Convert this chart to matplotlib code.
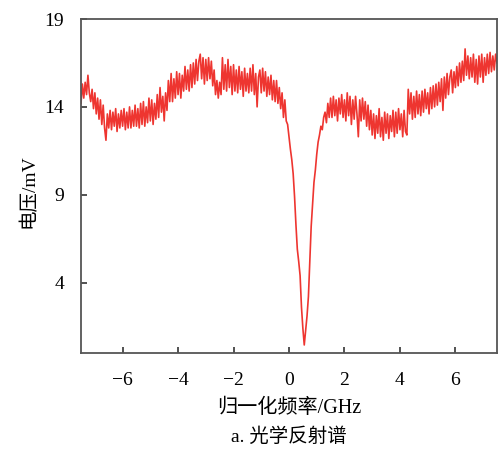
import numpy as np
import matplotlib
matplotlib.use("Agg")
import matplotlib.pyplot as plt

plt.rcParams['font.family'] = ['Liberation Serif', 'Noto Sans CJK SC']
plt.rcParams['axes.unicode_minus'] = True

# Reflected signal (mV), sampled every 0.05 GHz from -7.5 to 7.5 GHz
v_m75 = [14.2, 15.3, 14.5, 15.4, 14.7, 15.8, 14.8, 14.3, 15.0, 13.9]
v_m70 = [14.8, 13.6, 14.5, 13.3, 14.4, 13.0, 14.1, 12.8, 12.1, 13.6]
v_m65 = [12.8, 13.8, 12.7, 13.7, 12.9, 13.9, 12.6, 13.6, 12.8, 13.8]
v_m60 = [12.9, 13.9, 12.7, 13.7, 12.8, 14.0, 12.8, 13.8, 12.9, 14.1]
v_m55 = [12.9, 13.9, 12.8, 14.2, 13.0, 14.3, 12.9, 14.0, 13.1, 14.5]
v_m50 = [13.2, 14.4, 13.0, 14.2, 13.3, 14.7, 13.4, 15.1, 13.7, 14.6]
v_m45 = [13.2, 14.8, 13.8, 15.5, 14.3, 15.9, 14.3, 15.6, 14.5, 16.0]
v_m40 = [14.7, 15.9, 14.5, 15.8, 14.9, 16.3, 15.0, 16.1, 14.9, 16.4]
v_m35 = [15.1, 16.5, 15.3, 16.7, 15.5, 16.6, 17.0, 15.6, 16.8, 15.3]
v_m30 = [16.7, 15.5, 16.8, 15.6, 16.6, 15.2, 16.1, 14.7, 15.5, 14.5]
v_m25 = [15.4, 14.7, 16.8, 15.0, 16.4, 14.9, 16.7, 15.1, 16.3, 14.7]
v_m20 = [16.4, 14.9, 16.1, 14.8, 16.3, 15.0, 16.0, 14.6, 16.2, 14.9]
v_m15 = [15.9, 14.8, 16.2, 14.9, 16.4, 14.7, 15.9, 14.0, 15.7, 16.1]
v_m10 = [14.8, 16.2, 14.9, 16.0, 14.6, 15.7, 14.7, 15.8, 14.4, 15.5]
v_m05 = [14.3, 15.5, 14.2, 15.1, 13.9, 14.8, 13.4, 14.4, 13.2, 13.0]
v_p00 = [12.3, 11.6, 11.0, 10.2, 8.9, 7.3, 5.9, 5.2, 4.4, 2.6]
v_p05 = [1.4, 0.45, 1.3, 2.1, 3.2, 5.2, 7.2, 8.5, 9.7, 10.4]
v_p10 = [11.3, 12.0, 12.4, 12.9, 12.7, 13.4, 13.7, 13.1, 14.2, 13.4]
v_p15 = [14.5, 13.4, 14.6, 13.5, 14.4, 13.2, 14.5, 13.6, 14.7, 13.4]
v_p20 = [14.4, 13.2, 14.8, 13.5, 14.6, 13.0, 14.4, 13.3, 14.6, 13.6]
v_p25 = [12.3, 14.4, 13.2, 14.5, 13.3, 14.3, 12.9, 14.1, 12.7, 13.8]
v_p30 = [12.4, 13.6, 12.2, 13.5, 12.5, 13.9, 12.3, 13.4, 12.1, 13.7]
v_p35 = [12.5, 13.6, 12.2, 13.5, 12.6, 13.8, 12.3, 13.7, 12.5, 13.9]
v_p40 = [12.7, 13.6, 12.3, 13.8, 12.6, 12.4, 15.0, 13.6, 14.8, 13.3]
v_p45 = [14.6, 13.4, 14.9, 13.6, 14.7, 13.5, 14.9, 13.7, 15.0, 13.9]
v_p50 = [14.8, 13.6, 15.1, 13.9, 15.2, 14.0, 15.3, 14.1, 15.4, 14.3]
v_p55 = [15.6, 13.8, 15.7, 14.5, 15.9, 14.7, 15.7, 16.1, 14.8, 16.0]
v_p60 = [15.1, 16.3, 15.2, 16.5, 15.4, 16.6, 15.5, 17.3, 15.8, 16.9]
v_p65 = [15.6, 16.8, 15.7, 17.0, 15.4, 16.7, 15.3, 16.9, 15.7, 17.0]
v_p70 = [15.4, 16.8, 15.8, 17.0, 15.9, 17.1, 16.0, 16.9, 16.1, 17.0]
v_end = [16.5]

voltage = np.array(
    v_m75 + v_m70 + v_m65 + v_m60 + v_m55 + v_m50 + v_m45 + v_m40 + v_m35
    + v_m30 + v_m25 + v_m20 + v_m15 + v_m10 + v_m05 + v_p00 + v_p05 + v_p10
    + v_p15 + v_p20 + v_p25 + v_p30 + v_p35 + v_p40 + v_p45 + v_p50 + v_p55
    + v_p60 + v_p65 + v_p70 + v_end
)
freq = np.linspace(-7.5, 7.5, len(voltage))

xticks = [-6, -4, -2, 0, 2, 4, 6]
yticks = [4, 9, 14, 19]

fig = plt.figure(figsize=(5.0, 4.53), dpi=100)
ax = fig.add_axes([0.162, 0.221, 0.832, 0.737])

ax.plot(freq, voltage, color='#ee3530', linewidth=1.2)

ax.set_xlim(-7.5, 7.5)
ax.set_ylim(0, 19)
ax.set_xticks(xticks)
ax.set_yticks(yticks)
ax.tick_params(direction='in', length=4, width=1.2, labelsize=14,
               color='#333333')
ax.tick_params(axis='x', pad=14)
ax.tick_params(axis='y', pad=12)
for s in ax.spines.values():
    s.set_color('#555555')
    s.set_linewidth(1.3)

# axis titles and caption placed in figure pixels below/left of the frame
ax.set_ylabel('电压/mV', fontsize=14)
ax.yaxis.set_label_coords(-0.105, 0.485)
fig.text(289 / 500, 1 - 408 / 453, '归一化频率/GHz', ha='center',
         va='center', fontsize=14.5)
fig.text(289 / 500, 1 - 437 / 453, 'a. 光学反射谱', ha='center',
         va='center', fontsize=14)

fig.savefig('out.png', dpi=100)
